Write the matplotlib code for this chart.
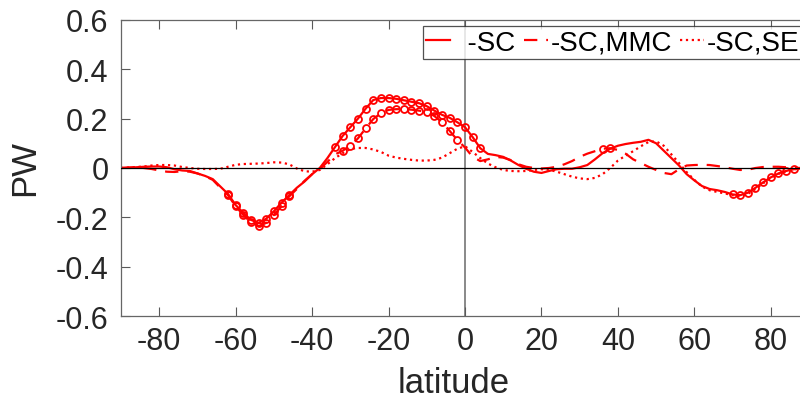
import numpy as np
import matplotlib
matplotlib.use('Agg')
import matplotlib.pyplot as plt
from matplotlib.lines import Line2D

plt.rcParams['font.family'] = ['Liberation Sans', 'DejaVu Sans']
plt.rcParams['axes.unicode_minus'] = False

# latitude grid (2 deg) and the three PW curves
lat = np.arange(-90, 91, 2)

sc = [0.0, 0.001, 0.003, 0.005, 0.006, 0.006, 0.003, -0.005, -0.01, -0.012,
      -0.022, -0.032, -0.045, -0.075, -0.105, -0.15, -0.182, -0.21, -0.222, -0.205,
      -0.175, -0.14, -0.11, -0.08, -0.055, -0.025, 0.0, 0.04, 0.085, 0.13,
      0.165, 0.2, 0.24, 0.275, 0.283, 0.283, 0.28, 0.274, 0.268, 0.262,
      0.25, 0.232, 0.215, 0.203, 0.185, 0.165, 0.125, 0.08, 0.057, 0.052,
      0.045, 0.03, 0.012, -0.003, -0.015, -0.02, -0.012, -0.005, -0.003, -0.003,
      0.003, 0.012, 0.035, 0.06, 0.078, 0.09, 0.097, 0.102, 0.106, 0.114,
      0.1, 0.07, 0.04, 0.01, -0.025, -0.05, -0.073, -0.085, -0.09, -0.097,
      -0.107, -0.11, -0.1, -0.08, -0.058, -0.038, -0.022, -0.012, -0.005, -0.002,
      0.0]

sc_mmc = [0.0, 0.002, 0.003, 0.0, -0.004, -0.01, -0.015, -0.016, -0.013, -0.015,
          -0.022, -0.033, -0.048, -0.08, -0.11, -0.155, -0.19, -0.22, -0.235, -0.222,
          -0.19, -0.155, -0.115, -0.085, -0.052, -0.025, -0.005, 0.025, 0.055, 0.07,
          0.09, 0.12, 0.16, 0.198, 0.222, 0.235, 0.238, 0.238, 0.236, 0.232,
          0.227, 0.21, 0.185, 0.15, 0.113, 0.083, 0.045, 0.028, 0.035, 0.045,
          0.042, 0.032, 0.015, 0.005, 0.0, -0.002, 0.0, 0.005, 0.015, 0.028,
          0.045, 0.058, 0.068, 0.078, 0.08, 0.073, 0.058, 0.035, 0.02, 0.005,
          -0.008, -0.02, -0.025, -0.005, 0.01, 0.012, 0.013, 0.012, 0.008, 0.003,
          -0.003, -0.008, -0.007, 0.0, 0.004, 0.005, 0.005, 0.003, 0.001, 0.0,
          0.0]

sc_se = [0.0, 0.002, 0.004, 0.006, 0.01, 0.012, 0.012, 0.01, 0.004, 0.0,
         -0.003, -0.004, -0.004, -0.003, 0.005, 0.013, 0.016, 0.017, 0.018, 0.02,
         0.023, 0.022, 0.015, -0.002, -0.013, -0.015, -0.008, 0.015, 0.04, 0.06,
         0.077, 0.081, 0.081, 0.075, 0.065, 0.05, 0.042, 0.037, 0.033, 0.03,
         0.03, 0.033, 0.042, 0.06, 0.078, 0.088, 0.065, 0.04, 0.018, 0.003,
         -0.008, -0.012, -0.013, -0.012, -0.008, -0.005, -0.007, -0.015, -0.025, -0.035,
         -0.042, -0.045, -0.04, -0.025, 0.0, 0.03, 0.05, 0.068, 0.088, 0.105,
         0.108, 0.09, 0.055, 0.02, -0.017, -0.048, -0.075, -0.09, -0.097, -0.103,
         -0.11, -0.115, -0.105, -0.085, -0.062, -0.04, -0.024, -0.013, -0.005, -0.002,
         0.0]

labels = ['  -SC', '-SC,MMC', '-SC,SE']

# latitude bands marked with circles (significant)
sc_sig = [(-62, -46), (-34, 4), (70, 86)]
mmc_sig = [(-62, -46), (-32, -2), (36, 38)]

def sig_mask(bands):
    m = np.zeros(len(lat), dtype=bool)
    for a, b in bands:
        m |= (lat >= a) & (lat <= b)
    return list(m)

tc = '#262626'
dash = (0, (6, 4))
fig = plt.figure(figsize=(8, 4.06), dpi=100)
ax = fig.add_axes([121/800, 88.7/406, 688/800, 296.6/406])

ax.axvline(0, color='0.5', lw=1.3, zorder=1)
ax.plot(lat, sc, color='r', lw=1.6, marker='o', ms=5, mfc='none', mew=1.3,
        markevery=sig_mask(sc_sig), zorder=2)
ax.plot(lat, sc_mmc, color='r', lw=1.6, ls=dash, marker='o', ms=5, mfc='none',
        mew=1.3, markevery=sig_mask(mmc_sig), zorder=2)
ax.plot(lat, sc_se, color='r', lw=1.6, ls=':', zorder=2)
ax.axhline(0, color='k', lw=0.9, zorder=3)

ax.set_xlim(-90, 90)
ax.set_ylim(-0.6, 0.6)
ax.set_xticks(np.arange(-80, 81, 20))
ax.set_yticks(np.arange(-0.6, 0.61, 0.2))
ax.set_yticklabels(['-0.6', '-0.4', '-0.2', '0', '0.2', '0.4', '0.6'])
ax.tick_params(direction='in', length=6.5, width=0.8, top=True, right=True,
               labelsize=22, colors=tc, color='0.35')
ax.tick_params(axis='x', pad=7)
ax.tick_params(axis='y', pad=9)
for s in ax.spines.values():
    s.set_color('0.4')
    s.set_linewidth(0.9)

ax.set_xlabel('latitude', fontsize=25, color=tc)
ax.set_ylabel('PW', fontsize=25, color=tc)
ax.xaxis.label.set_va('center')
ax.xaxis.set_label_coords(0.483, -0.222)
ax.yaxis.label.set_va('center')
ax.yaxis.set_label_coords(-0.1395, 0.503)

handles = [Line2D([], [], color='r', lw=1.6),
           Line2D([], [], color='r', lw=1.6, ls=dash),
           Line2D([], [], color='r', lw=1.6, ls=':')]
leg = ax.legend(handles, labels, loc='upper left',
                bbox_to_anchor=(422.7/800, 1 - 27.3/406),
                bbox_transform=fig.transFigure, ncol=3, fontsize=20, frameon=True,
                fancybox=False, borderpad=0.12, handlelength=0.85, handletextpad=0.1,
                columnspacing=0.3, borderaxespad=0)
leg.get_frame().set_edgecolor('0.15')
leg.get_frame().set_linewidth(0.9)

plt.savefig('out.png', dpi=100)
